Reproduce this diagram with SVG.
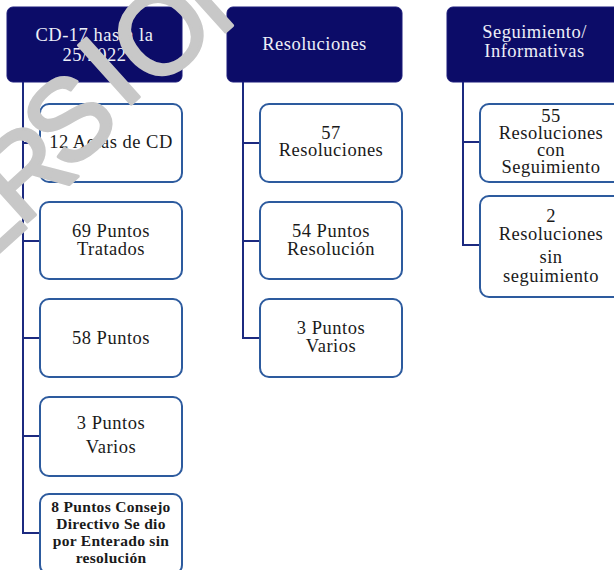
<svg xmlns="http://www.w3.org/2000/svg" width="614" height="570" viewBox="0 0 614 570">
<style>
.hdr{fill:#0c0c68;stroke:#1a1a7a;stroke-width:1}
.box{fill:#ffffff;stroke:#2d5b9e;stroke-width:2}
.ht{font-family:"Liberation Serif","Times New Roman",serif;font-size:18.5px;letter-spacing:0.5px;fill:#eef0f8;text-anchor:middle}
.bt{font-family:"Liberation Serif","Times New Roman",serif;font-size:18.5px;letter-spacing:0.5px;fill:#1a1a1a;text-anchor:middle}
.st{font-family:"Liberation Serif","Times New Roman",serif;font-size:15.5px;font-weight:bold;letter-spacing:0.3px;fill:#1a1a1a;text-anchor:middle}
.con{fill:none;stroke:#1c2a80;stroke-width:2}
.wm{font-family:"Liberation Sans",Arial,sans-serif;font-size:115px;fill:#c8c8c8;stroke:#c8c8c8;stroke-width:3;stroke-linejoin:round;text-anchor:middle}
</style>
<rect width="614" height="570" fill="#ffffff"/>
<g id="connectors">
<path class="con" d="M23,82 V533 H40 M23,143 H40 M23,241 H40 M23,338 H40 M23,436 H40"/>
<path class="con" d="M243,82 V338 H260 M243,143 H260 M243,241 H260"/>
<path class="con" d="M463,82 V245 H480 M463,142 H480"/>
</g>
<g id="h1"><rect class="hdr" x="7" y="7" width="175" height="75" rx="6"/>
<text class="ht" x="94.5" y="41">CD-17 hasta la</text><text class="ht" x="94.5" y="61">25/2022</text></g>
<g id="h2"><rect class="hdr" x="227" y="7" width="175" height="75" rx="6"/>
<text class="ht" x="314.5" y="50">Resoluciones</text></g>
<g id="h3"><rect class="hdr" x="447" y="7" width="175" height="75" rx="6"/>
<text class="ht" x="534.5" y="38">Seguimiento/</text><text class="ht" x="534.5" y="57">Informativas</text></g>
<g id="c1a"><rect class="box" x="40" y="104" width="142" height="78" rx="9"/>
<text class="bt" x="111" y="148">12 Actas de CD</text></g>
<g id="c1b"><rect class="box" x="40" y="202" width="142" height="77" rx="9"/>
<text class="bt" x="111" y="237">69 Puntos</text><text class="bt" x="111" y="255">Tratados</text></g>
<g id="c1c"><rect class="box" x="40" y="299" width="142" height="78" rx="9"/>
<text class="bt" x="111" y="344">58 Puntos</text></g>
<g id="c1d"><rect class="box" x="40" y="397" width="142" height="79" rx="9"/>
<text class="bt" x="111" y="429">3 Puntos</text><text class="bt" x="111" y="453">Varios</text></g>
<g id="c1e"><rect class="box" x="40" y="494" width="142" height="80" rx="9"/>
<text class="st" x="111" y="512">8 Puntos Consejo</text><text class="st" x="111" y="529">Directivo Se dio</text><text class="st" x="111" y="546">por Enterado sin</text><text class="st" x="111" y="563">resolución</text></g>
<g id="c2a"><rect class="box" x="260" y="104" width="142" height="78" rx="9"/>
<text class="bt" x="331" y="139">57</text><text class="bt" x="331" y="156">Resoluciones</text></g>
<g id="c2b"><rect class="box" x="260" y="202" width="142" height="77" rx="9"/>
<text class="bt" x="331" y="237">54 Puntos</text><text class="bt" x="331" y="255">Resolución</text></g>
<g id="c2c"><rect class="box" x="260" y="299" width="142" height="78" rx="9"/>
<text class="bt" x="331" y="334">3 Puntos</text><text class="bt" x="331" y="352">Varios</text></g>
<g id="c3a"><rect class="box" x="480" y="104" width="142" height="78" rx="9"/>
<text class="bt" x="551" y="122">55</text><text class="bt" x="551" y="139">Resoluciones</text><text class="bt" x="551" y="156">con</text><text class="bt" x="551" y="173">Seguimiento</text></g>
<g id="c3b"><rect class="box" x="480" y="196" width="142" height="101" rx="9"/>
<text class="bt" x="551" y="222">2</text><text class="bt" x="551" y="240">Resoluciones</text><text class="bt" x="551" y="263">sin</text><text class="bt" x="551" y="282">seguimiento</text></g>
<g id="watermark">
<text class="wm" transform="translate(-26,220) rotate(-42)" y="41">E</text>
<text class="wm" transform="translate(24,170) rotate(-42)" y="41">R</text>
<text class="wm" transform="translate(68,118) rotate(-42)" y="41">S</text>
<text class="wm" transform="translate(108,70) rotate(-42)" y="41">I</text>
<text class="wm" transform="translate(160,32) rotate(-42)" y="41">O</text>
<text class="wm" transform="translate(222,-20) rotate(-42)" y="41">N</text>
</g>
</svg>
